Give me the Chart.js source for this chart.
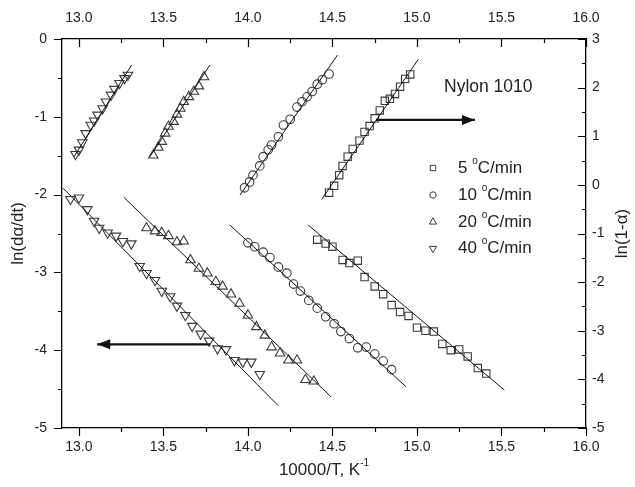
<!DOCTYPE html>
<html>
<head>
<meta charset="utf-8">
<script src="https://cdn.jsdelivr.net/npm/chart.js@4"></script>
<style>
  html, body { margin: 0; padding: 0; background: #fff; }
</style>
</head>
<body>
<canvas id="myChart" width="635" height="487"></canvas>
<script>
// tick labels
const xTicks = [13.0, 13.5, 14.0, 14.5, 15.0, 15.5, 16.0];
const xMinor = [13.25, 13.75, 14.25, 14.75, 15.25, 15.75];
const yLeftTicks = [-5, -4, -3, -2, -1, 0];
const yLeftMinor = [-4.5, -3.5, -2.5, -1.5, -0.5];
const yRightTicks = [-5, -4, -3, -2, -1, 0, 1, 2, 3];
const yRightMinor = [-4.5, -3.5, -2.5, -1.5, -0.5, 0.5, 1.5, 2.5];

const rateLabels = ["5", "10", "20", "40"];

// ln(da/dt) vs 10000/T (left axis)
const rate5RateX = [14.41, 14.46, 14.50, 14.56, 14.60, 14.65, 14.69, 14.75, 14.80, 14.85, 14.90, 14.95, 15.00, 15.05, 15.10, 15.15, 15.20, 15.25, 15.30, 15.36, 15.41];
const rate5RateY = [-2.58, -2.63, -2.67, -2.84, -2.88, -2.85, -3.06, -3.18, -3.28, -3.42, -3.51, -3.56, -3.71, -3.75, -3.76, -3.92, -4.00, -3.99, -4.08, -4.23, -4.30];
const rate10RateX = [14.00, 14.04, 14.09, 14.13, 14.18, 14.23, 14.27, 14.31, 14.36, 14.41, 14.46, 14.51, 14.55, 14.60, 14.65, 14.70, 14.75, 14.80, 14.85];
const rate10RateY = [-2.62, -2.67, -2.74, -2.81, -2.93, -3.01, -3.15, -3.24, -3.36, -3.46, -3.57, -3.66, -3.76, -3.85, -3.97, -3.96, -4.05, -4.14, -4.25];
const rate20RateX = [13.40, 13.45, 13.49, 13.53, 13.58, 13.62, 13.66, 13.71, 13.76, 13.81, 13.85, 13.90, 13.95, 14.00, 14.05, 14.10, 14.14, 14.19, 14.24, 14.29, 14.34, 14.39];
const rate20RateY = [-2.43, -2.47, -2.49, -2.53, -2.61, -2.60, -2.84, -2.95, -3.01, -3.12, -3.18, -3.28, -3.40, -3.55, -3.70, -3.81, -3.96, -4.04, -4.13, -4.13, -4.38, -4.40];
const rate40RateX = [12.95, 13.00, 13.05, 13.09, 13.12, 13.17, 13.22, 13.26, 13.31, 13.36, 13.40, 13.45, 13.49, 13.54, 13.58, 13.63, 13.67, 13.72, 13.77, 13.82, 13.87, 13.92, 13.97, 14.02, 14.07];
const rate40RateY = [-2.06, -2.04, -2.19, -2.34, -2.43, -2.49, -2.53, -2.60, -2.63, -2.92, -3.01, -3.10, -3.24, -3.31, -3.43, -3.55, -3.69, -3.79, -3.88, -3.98, -3.99, -4.13, -4.15, -4.15, -4.31];

// ln(1-a) vs 10000/T (right axis)
const rate5ConvX = [14.48, 14.51, 14.54, 14.56, 14.59, 14.62, 14.66, 14.69, 14.72, 14.75, 14.78, 14.81, 14.84, 14.87, 14.90, 14.93, 14.96];
const rate5ConvY = [-0.16, -0.02, 0.20, 0.39, 0.58, 0.74, 0.91, 1.09, 1.21, 1.37, 1.53, 1.73, 1.77, 1.87, 2.02, 2.18, 2.27];
const rate10ConvX = [13.98, 14.01, 14.03, 14.07, 14.09, 14.12, 14.14, 14.18, 14.21, 14.25, 14.29, 14.32, 14.35, 14.38, 14.41, 14.44, 14.48];
const rate10ConvY = [-0.06, 0.06, 0.20, 0.39, 0.58, 0.72, 0.82, 0.99, 1.23, 1.35, 1.60, 1.71, 1.81, 1.92, 2.07, 2.16, 2.28];
const rate20ConvX = [13.44, 13.47, 13.49, 13.51, 13.53, 13.56, 13.58, 13.60, 13.62, 13.65, 13.68, 13.71, 13.74];
const rate20ConvY = [0.61, 0.77, 0.89, 1.06, 1.20, 1.30, 1.45, 1.57, 1.71, 1.81, 1.92, 2.03, 2.22];
const rate40ConvX = [12.98, 13.00, 13.02, 13.04, 13.07, 13.09, 13.11, 13.14, 13.16, 13.19, 13.21, 13.24, 13.27, 13.29];
const rate40ConvY = [0.63, 0.72, 0.87, 1.06, 1.23, 1.32, 1.44, 1.57, 1.71, 1.85, 1.97, 2.09, 2.19, 2.26];

// fitted lines (end points)
const fitRateX = [[14.356, 15.517], [13.893, 14.935], [13.266, 14.491], [12.907, 14.179]];
const fitRateY = [[-2.391, -4.512], [-2.391, -4.469], [-2.035, -4.598], [-1.919, -4.713]];
const fitConvX = [[14.436, 15.008], [13.953, 14.530], [13.420, 13.775], [12.971, 13.312]];
const fitConvY = [[-0.298, 2.582], [-0.210, 2.671], [0.578, 2.465], [0.578, 2.465]];

// arrows (left axis units), last point is the tip
const arrowRightX = [14.757, 15.343];
const arrowRightY = [-1.04, -1.04];
const arrowLeftX = [13.777, 13.108];
const arrowLeftY = [-3.925, -3.925];

const FONT = "'Liberation Sans', Arial, sans-serif";
const markColor = "#3a3a3a";
const markerStyles = [
  { pointStyle: "rect", rotation: 0, radius: 5.2 },
  { pointStyle: "circle", rotation: 0, radius: 4.3 },
  { pointStyle: "triangle", rotation: 0, radius: 5.5 },
  { pointStyle: "triangle", rotation: 180, radius: 5.5 },
];

function pts(xs, ys) {
  return xs.map((x, i) => ({ x: x, y: ys[i] }));
}

const rateX = [rate5RateX, rate10RateX, rate20RateX, rate40RateX];
const rateY = [rate5RateY, rate10RateY, rate20RateY, rate40RateY];
const convX = [rate5ConvX, rate10ConvX, rate20ConvX, rate40ConvX];
const convY = [rate5ConvY, rate10ConvY, rate20ConvY, rate40ConvY];

let datasets = [];
for (let i = 0; i < rateLabels.length; i++) {
  datasets.push({
    type: "line", showLine: true, data: pts(fitRateX[i], fitRateY[i]),
    yAxisID: "yL", borderColor: "#111", borderWidth: 1, pointRadius: 0,
  });
  datasets.push({
    type: "line", showLine: true, data: pts(fitConvX[i], fitConvY[i]),
    yAxisID: "yR", borderColor: "#111", borderWidth: 1, pointRadius: 0,
  });
}
for (let i = 0; i < rateLabels.length; i++) {
  const m = markerStyles[i];
  [[rateX[i], rateY[i], "yL"], [convX[i], convY[i], "yR"]].forEach(function (s) {
    datasets.push({
      label: rateLabels[i] + " \u00B0C/min",
      data: pts(s[0], s[1]),
      yAxisID: s[2],
      showLine: false,
      pointStyle: m.pointStyle,
      rotation: m.rotation,
      pointRadius: m.radius,
      pointBorderWidth: 1.1,
      pointBorderColor: markColor,
      pointBackgroundColor: "rgba(0,0,0,0)",
    });
  });
}
datasets.push({
  type: "line", showLine: true, arrow: true, data: pts(arrowRightX, arrowRightY),
  yAxisID: "yL", borderColor: "#111", borderWidth: 2.2, pointRadius: 0,
});
datasets.push({
  type: "line", showLine: true, arrow: true, data: pts(arrowLeftX, arrowLeftY),
  yAxisID: "yL", borderColor: "#111", borderWidth: 2.2, pointRadius: 0,
});

// tick marks: major/minor on all four sides
const tickMarks = {
  id: "tickMarks",
  afterDraw(chart) {
    const { ctx, chartArea: a, scales } = chart;
    ctx.save();
    ctx.strokeStyle = "#000";
    ctx.lineWidth = 1.2;
    ctx.beginPath();
    const xs = scales.x;
    xTicks.forEach(v => {
      const px = Math.round(xs.getPixelForValue(v)) + 0.5;
      ctx.moveTo(px, a.bottom); ctx.lineTo(px, a.bottom + 8);
      ctx.moveTo(px, a.top); ctx.lineTo(px, a.top + 8);
    });
    xMinor.forEach(v => {
      const px = Math.round(xs.getPixelForValue(v)) + 0.5;
      ctx.moveTo(px, a.bottom); ctx.lineTo(px, a.bottom + 4);
      ctx.moveTo(px, a.top); ctx.lineTo(px, a.top + 4);
    });
    yLeftTicks.forEach(v => {
      const py = Math.round(scales.yL.getPixelForValue(v)) + 0.5;
      ctx.moveTo(a.left - 8, py); ctx.lineTo(a.left, py);
    });
    yLeftMinor.forEach(v => {
      const py = Math.round(scales.yL.getPixelForValue(v)) + 0.5;
      ctx.moveTo(a.left - 4, py); ctx.lineTo(a.left, py);
    });
    yRightTicks.forEach(v => {
      const py = Math.round(scales.yR.getPixelForValue(v)) + 0.5;
      ctx.moveTo(a.right - 8, py); ctx.lineTo(a.right, py);
    });
    yRightMinor.forEach(v => {
      const py = Math.round(scales.yR.getPixelForValue(v)) + 0.5;
      ctx.moveTo(a.right - 4, py); ctx.lineTo(a.right, py);
    });
    ctx.stroke();
    ctx.restore();
  },
};

// arrow heads at the last point of arrow datasets
const arrowHeads = {
  id: "arrowHeads",
  afterDatasetsDraw(chart) {
    const ctx = chart.ctx;
    chart.data.datasets.forEach((ds, i) => {
      if (!ds.arrow) return;
      const pts = chart.getDatasetMeta(i).data;
      const tip = pts[pts.length - 1], prev = pts[pts.length - 2];
      const ang = Math.atan2(tip.y - prev.y, tip.x - prev.x);
      ctx.save();
      ctx.translate(tip.x, tip.y);
      ctx.rotate(ang);
      ctx.fillStyle = "#111";
      ctx.beginPath();
      ctx.moveTo(0, 0);
      ctx.lineTo(-13, -5);
      ctx.lineTo(-13, 5);
      ctx.closePath();
      ctx.fill();
      ctx.restore();
    });
  },
};

function drawDegreeText(ctx, prefix, rest, x, y, size) {
  ctx.font = size + "px " + FONT;
  ctx.fillText(prefix, x, y);
  let w = ctx.measureText(prefix).width;
  ctx.font = Math.round(size * 0.6) + "px " + FONT;
  ctx.fillText("o", x + w, y - size * 0.42);
  w += ctx.measureText("o").width;
  ctx.font = size + "px " + FONT;
  ctx.fillText(rest, x + w, y);
}

// legend, annotation text and the titles drawn as text
const texts = {
  id: "texts",
  afterDraw(chart) {
    const { ctx, chartArea: a } = chart;
    ctx.save();
    ctx.fillStyle = "#222";
    ctx.textBaseline = "middle";
    ctx.textAlign = "left";

    ctx.font = "17.5px " + FONT;
    ctx.fillText("Nylon 1010", 444, 87);

    const rowY = [168, 195, 222, 248.5];
    rateLabels.forEach((lab, i) => {
      const m = markerStyles[i];
      ctx.strokeStyle = markColor;
      ctx.fillStyle = "rgba(0,0,0,0)";
      ctx.lineWidth = 1;
      Chart.helpers.drawPoint(ctx, {
        pointStyle: m.pointStyle, rotation: m.rotation,
        radius: m.pointStyle === "circle" ? 3.2 : (m.pointStyle === "rect" ? 3.8 : 4.2),
        borderWidth: 1,
      }, 433, rowY[i]);
      ctx.fillStyle = "#222";
      drawDegreeText(ctx, lab + " ", "C/min", 458, rowY[i], 17);
    });

    // bottom title with superscript
    ctx.font = "17px " + FONT;
    const main = "10000/T, K";
    const w1 = ctx.measureText(main).width;
    ctx.font = "10px " + FONT;
    const w2 = ctx.measureText("-1").width;
    const x0 = (a.left + a.right) / 2 - (w1 + w2) / 2;
    ctx.font = "17px " + FONT;
    ctx.fillText(main, x0, 470);
    ctx.font = "10px " + FONT;
    ctx.fillText("-1", x0 + w1, 463);

    // right title, reading bottom to top
    ctx.translate(622, (a.top + a.bottom) / 2);
    ctx.rotate(-Math.PI / 2);
    ctx.textAlign = "center";
    ctx.font = "17px " + FONT;
    ctx.fillText("ln(1-\u03B1)", 0, 0);
    ctx.restore();
  },
};

const tickFont = { family: FONT, size: 14 };

const config = {
  type: "scatter",
  data: { datasets },
  options: {
    responsive: false,
    animation: false,
    layout: { padding: 0 },
    plugins: { legend: { display: false }, tooltip: { enabled: false } },
    scales: {
      x: {
        type: "linear", position: "bottom", min: 12.9, max: 16.0,
        afterBuildTicks: s => { s.ticks = xTicks.map(v => ({ value: v })); },
        afterFit: s => { s.height = 59; },
        ticks: { font: tickFont, color: "#222", padding: 11, maxRotation: 0, callback: v => v.toFixed(1) },
        grid: { display: false, drawTicks: false },
        border: { display: true, color: "#000", width: 1.3 },
      },
      xTop: {
        type: "linear", position: "top", min: 12.9, max: 16.0,
        afterBuildTicks: s => { s.ticks = xTicks.map(v => ({ value: v })); },
        afterFit: s => { s.height = 39; },
        ticks: { font: tickFont, color: "#222", padding: 12, maxRotation: 0, callback: v => v.toFixed(1) },
        grid: { display: false, drawTicks: false },
        border: { display: true, color: "#000", width: 1.3 },
      },
      yL: {
        type: "linear", position: "left", min: -5, max: 0,
        afterBuildTicks: s => { s.ticks = yLeftTicks.map(v => ({ value: v })); },
        afterFit: s => { s.width = 62; },
        ticks: { font: tickFont, color: "#222", padding: 15, callback: v => String(v) },
        grid: { display: false, drawTicks: false },
        border: { display: true, color: "#000", width: 1.3 },
        title: { display: true, text: "ln(d\u03B1/dt)", font: { family: FONT, size: 17 }, color: "#222", padding: { top: 8, bottom: 0 } },
      },
      yR: {
        type: "linear", position: "right", min: -5, max: 3,
        afterBuildTicks: s => { s.ticks = yRightTicks.map(v => ({ value: v })); },
        afterFit: s => { s.width = 49; },
        ticks: { font: tickFont, color: "#222", padding: 6, callback: v => String(v) },
        grid: { display: false, drawTicks: false },
        border: { display: true, color: "#000", width: 1.3 },
      },
    },
  },
  plugins: [tickMarks, arrowHeads, texts],
};

const myChart = new Chart(document.getElementById("myChart"), config);
</script>
</body>
</html>
